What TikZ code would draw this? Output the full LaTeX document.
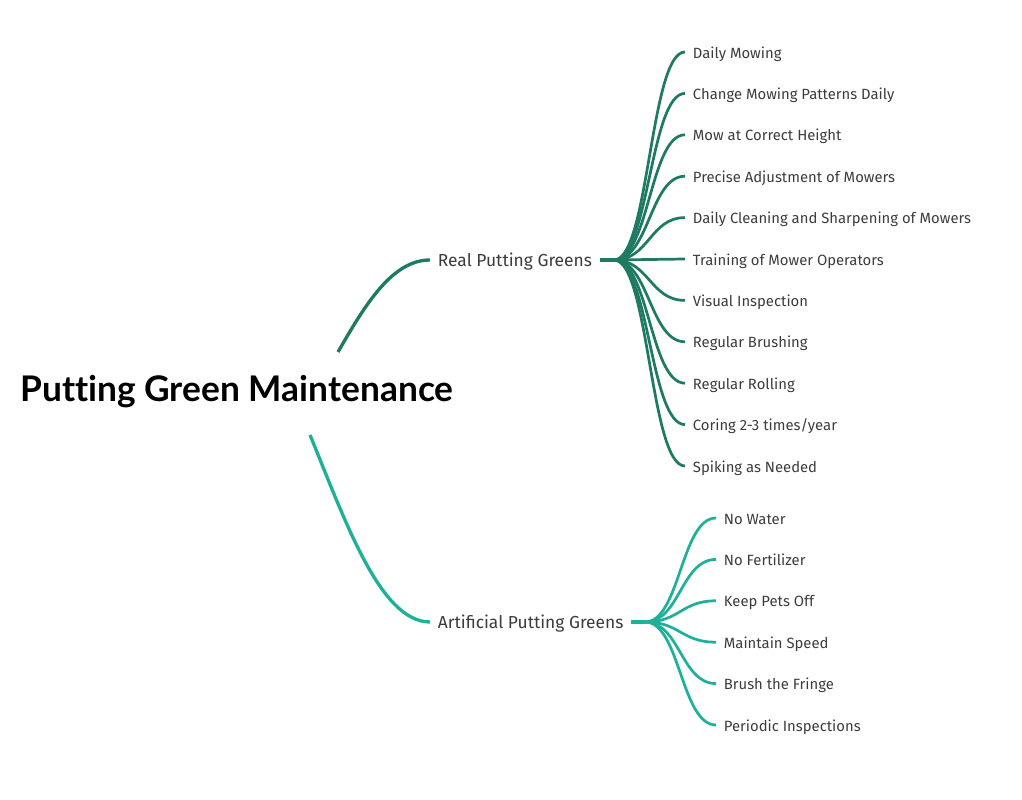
\documentclass[tikz,border=0pt]{standalone}
\usepackage{fontspec}
\setmainfont{Fira Sans}
\newfontfamily\titlefont[Ligatures=NoCommon]{Lato}
\usetikzlibrary{calc, positioning}
\definecolor{Pine}{HTML}{1E7A63}
\definecolor{Jade}{HTML}{20B09A}
\definecolor{Graphite}{HTML}{3C3C3C}
\colorlet{cReal}{Pine}
\colorlet{cArt}{Jade}
\tikzset{
	x = 0.02cm,
	y = -0.02cm,
	line cap = round,
	topic/.style={
		anchor=west,
		inner sep=0pt,
		outer xsep=4.5pt,
		text=Graphite,
		text height=.7em,
		text depth=0pt,
		font=\fontsize{9.9}{11}\selectfont
	},
	leaf/.style={
		topic,
		font=\fontsize{8.45}{10}\selectfont
	},
	branch/.style={
		line width=1.9pt
	},
	twig/.style={
		line width=1.55pt
	}
}

\begin{document}
\begin{tikzpicture}
	\useasboundingbox (0,0) rectangle (1022,800);

	\node (root) [font=\titlefont\bfseries\fontsize{20.1}{23}\selectfont] at (237,392) {Putting Green Maintenance};
	\node (real) [topic] at (430,260) {Real Putting Greens};
	\node (art) [topic] at (430,622) {Artificial Putting Greens};

	\coordinate (rootup) at (338,352);
	\coordinate (rootdown) at (310,435);
	\coordinate (realhub) at (614,260);
	\coordinate (arthub) at (645,622);

	\foreach \txt [count=\i] in {Daily Mowing, Change Mowing Patterns Daily, Mow at Correct Height,
		Precise Adjustment of Mowers, Daily Cleaning and Sharpening of Mowers, Training of Mower Operators,
		Visual Inspection, Regular Brushing, Regular Rolling, Coring 2-3 times/year, Spiking as Needed}
		\node (r\i) [leaf] at (685,{52+41.4*(\i-1)}) {\txt};

	\foreach \txt [count=\i] in {No Water, No Fertilizer, Keep Pets Off, Maintain Speed,
		Brush the Fringe, Periodic Inspections}
		\node (a\i) [leaf] at (716,{518+41.4*(\i-1)}) {\txt};

	\draw[cReal,branch] (rootup) .. controls (365,305) and (392,260) .. (real.west);
	\draw[cArt,branch] (rootdown) .. controls (345,520) and (380,622) .. (art.west);

	\draw[cReal,branch] (real.east) -- (realhub);
	\foreach \i in {1,...,11}
		\draw[cReal,twig] (realhub) .. controls +(35,0) and +(-35,0) .. (r\i.west);

	\draw[cArt,branch] (art.east) -- (arthub);
	\foreach \i in {1,...,6}
		\draw[cArt,twig] (arthub) .. controls +(35,0) and +(-35,0) .. (a\i.west);
\end{tikzpicture}
\end{document}
